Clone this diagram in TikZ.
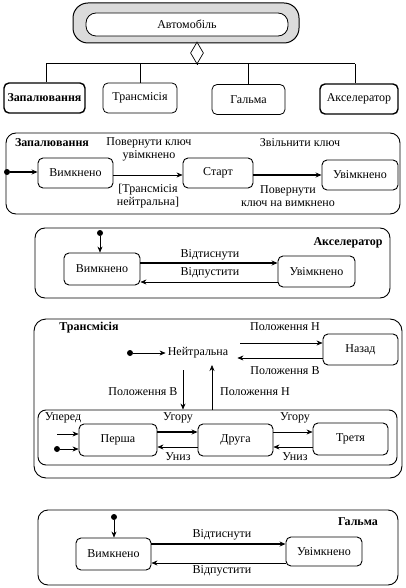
\documentclass[tikz,border=0pt]{standalone}
\usepackage{fontspec}
\setmainfont{Liberation Serif}
\usetikzlibrary{arrows.meta, positioning, shapes.geometric}

\begin{document}
\begin{tikzpicture}[
    x=1pt, y=-1pt,
    font=\fontsize{12}{13.5}\selectfont,
    stateBox/.style={
        rectangle,
        rounded corners=5pt,
        draw,
        line width=0.9pt,
        minimum width=76pt,
        minimum height=31pt,
        inner sep=1pt
    },
    partBox/.style={
        rectangle,
        rounded corners=5pt,
        draw,
        line width=0.8pt,
        minimum height=30pt,
        inner sep=1pt
    },
    regionBox/.style={
        rectangle,
        rounded corners=10pt,
        draw,
        line width=0.9pt,
        inner sep=0pt
    },
    lbl/.style={inner sep=0pt, align=center},
    regionTitle/.style={inner sep=0pt, font=\fontsize{12}{13.5}\selectfont\bfseries},
    initDot/.style={circle, fill, inner sep=0pt, minimum size=6pt},
    trans/.style={-{Stealth[length=6pt, width=5pt]}, line width=0.6pt},
    transThick/.style={trans, line width=1.6pt}
]
\useasboundingbox (0,0) rectangle (405,588);

% Aggregate
\node[rectangle, rounded corners=15pt, draw, line width=1pt, fill=gray!28,
      minimum width=226pt, minimum height=40pt] (carFrame) at (186,23) {};
\node[rectangle, rounded corners=10pt, draw, line width=0.8pt, fill=white,
      minimum width=202pt, minimum height=23pt] (car) at (187,24.5) {Автомобіль};
\node[diamond, draw, line width=0.7pt, fill=white, inner sep=0pt,
      minimum width=13pt, minimum height=22pt] (agg) at (197,53) {};

\node[partBox, line width=1.4pt, minimum width=81pt] (ign) at (44.5,98) {\textbf{Запалювання}};
\node[partBox, minimum width=74pt] (tr) at (140,98) {Трансмісія};
\node[partBox, minimum width=73pt] (br) at (248.5,99.5) {Гальма};
\node[partBox, line width=1.4pt, minimum width=78pt] (acc) at (359,99) {Акселератор};

\coordinate (busL) at (46,64);
\coordinate (busR) at (355,64);
\draw[line width=1pt] (busL) -- (busR);
\draw[line width=1pt] (agg.south) -- (agg.south |- busL);
\draw[line width=1pt] (busL) -- (busL |- ign.north);
\draw[line width=1pt] (tr.north |- busL) -- (tr.north);
\draw[line width=1pt] (br.north |- busL) -- (br.north);
\draw[line width=1pt] (busR) -- (busR |- acc.north);

% Ignition
\node[regionBox, minimum width=394pt, minimum height=81pt] (ignReg) at (203,173.5) {};
\node[regionTitle] at (52,143) {Запалювання};
\node[stateBox, minimum width=75pt, minimum height=30pt] (ignOff) at (75.5,173) {Вимкнено};
\node[stateBox, minimum width=70pt, minimum height=30pt] (ignStart) at (218,173) {Старт};
\node[stateBox, minimum height=30pt] (ignOn) at (360,175) {Увімкнено};
\node[initDot] (ignInit) at (7,172) {};

\draw[transThick] (ignInit) -- (ignInit -| ignOff.west);
\draw[trans] ([yshift=-2pt]ignOff.east) -- ([yshift=-2pt]ignOff.east -| ignStart.west);
\draw[transThick] ([yshift=-2pt]ignStart.east) -- ([yshift=-2pt]ignStart.east -| ignOn.west);

\node[lbl] at (149,149.5) {Повернути ключ\\увімкнено};
\node[lbl] at (148,196) {[Трансмісія\\нейтральна]};
\node[lbl] at (300,143) {Звільнити ключ};
\node[lbl] at (288,196) {Повернути\\ключ на вимкнено};

% Accelerator
\node[regionBox, minimum width=355pt, minimum height=70pt] (accReg) at (212.5,263) {};
\node[regionTitle] at (348,243) {Акселератор};
\node[stateBox, minimum height=32pt] (accOff) at (102,269) {Вимкнено};
\node[stateBox, minimum width=77pt] (accOn) at (316.5,271.5) {Увімкнено};
\node[initDot] (accInit) at (100,233) {};

\draw[trans] (accInit) -- (accInit |- accOff.north);
\draw[transThick] ([yshift=6pt]accOff.east) -- ([yshift=6pt]accOff.east -| accOn.west);
\draw[trans] ([yshift=-10.5pt]accOn.west) -- ([yshift=-10.5pt]accOn.west -| accOff.east);

\node[lbl] at (210,255) {Відтиснути};
\node[lbl] at (210,273) {Відпустити};

% Transmission
\node[regionBox, rounded corners=12pt, minimum width=368pt, minimum height=159pt] (trReg) at (218,398.5) {};
\node[regionTitle] at (89,328) {Трансмісія};
\node[initDot] (trInit) at (130,353) {};
\node[inner sep=2pt] (neut) at (198,353) {Нейтральна};
\node[stateBox, minimum width=75pt] (back) at (360.5,349.5) {Назад};
\coordinate (neutOut) at ([shift={(10pt,10pt)}]neut.east);
\coordinate (neutIn) at ([xshift=7pt]neut.east);

\draw[trans] (trInit) -- (neut.west);
\draw[trans] (neutOut) -- (neutOut -| back.west);
\draw[trans] ([yshift=-8.5pt]back.west) -- ([yshift=-8.5pt]back.west -| neutIn);

\node[lbl] at (285,327) {Положення Н};
\node[lbl] at (285,371) {Положення В};

\node[regionBox, rounded corners=8pt, minimum width=359pt, minimum height=55pt] (gears) at (217.5,437.5) {};
\coordinate (dn) at (183,370);
\coordinate (up) at (212,365);
\draw[trans] (dn) -- (dn |- gears.north);
\draw[trans] (up |- gears.north) -- (up);
\node[lbl] at (143,392) {Положення В};
\node[lbl] at (255,392) {Положення Н};

\node[stateBox, minimum width=78pt, minimum height=32pt] (first) at (118,440) {Перша};
\node[stateBox, minimum width=75pt, minimum height=32pt] (second) at (235.5,440) {Друга};
\node[stateBox, minimum width=75pt, minimum height=32pt] (third) at (350.5,439) {Третя};

\node[lbl] at (63,418) {Уперед};
\coordinate (fwd) at (57,434);
\node[initDot] (gearInit) at (57,449) {};
\draw[trans] (fwd) -- (fwd -| first.west);
\draw[trans] (gearInit) -- (gearInit -| first.west);

\draw[transThick] ([yshift=8pt]first.east) -- ([yshift=8pt]first.east -| second.west);
\draw[trans] ([yshift=-7pt]second.west) -- ([yshift=-7pt]second.west -| first.east);
\draw[trans] ([yshift=8pt]second.east) -- ([yshift=8pt]second.east -| third.west);
\draw[trans] ([yshift=-8pt]third.west) -- ([yshift=-8pt]third.west -| second.east);

\node[lbl] at (178,418) {Угору};
\node[lbl] at (178,457) {Униз};
\node[lbl] at (295,418) {Угору};
\node[lbl] at (295,457) {Униз};

% Brakes
\node[regionBox, minimum width=360pt, minimum height=75pt] (brReg) at (218,547.5) {};
\node[regionTitle] at (358,522) {Гальма};
\node[stateBox, minimum width=75pt, minimum height=32pt] (brOff) at (113.5,554) {Вимкнено};
\node[stateBox, minimum height=29pt] (brOn) at (324,551.5) {Увімкнено};
\node[initDot] (brInit) at (114,517) {};

\draw[trans] (brInit) -- (brInit |- brOff.north);
\draw[transThick] ([yshift=7.5pt]brOn.west -| brOff.east) -- ([yshift=7.5pt]brOn.west);
\draw[trans] ([yshift=-11.5pt]brOn.west) -- ([yshift=-11.5pt]brOn.west -| brOff.east);

\node[lbl] at (222,535) {Відтиснути};
\node[lbl] at (222,571) {Відпустити};

\end{tikzpicture}
\end{document}
